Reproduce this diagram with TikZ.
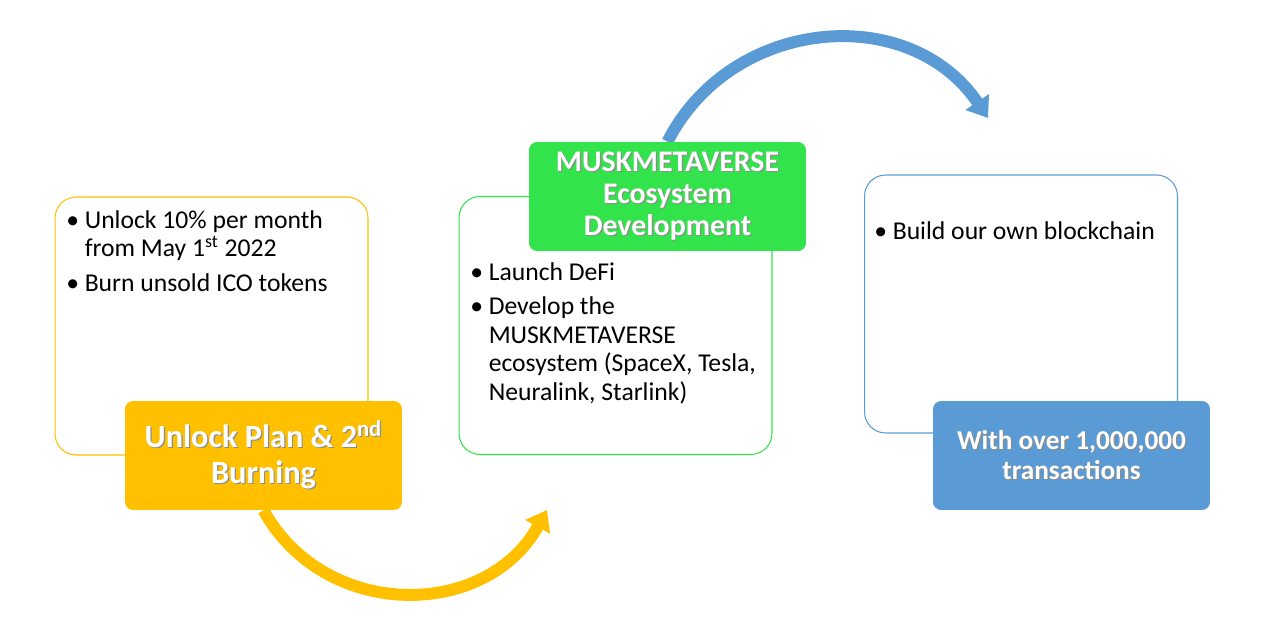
\documentclass[tikz,border=0pt]{standalone}
\usepackage{fontspec}
\setmainfont{Carlito}
\usepackage{xcolor}
\usetikzlibrary{arrows.meta, positioning, backgrounds}

\definecolor{burngold}{HTML}{FFC000}
\definecolor{ecogreen}{HTML}{33E34B}
\definecolor{chainblue}{HTML}{5B9BD5}

\newcommand{\bulletitem}{\makebox[10.5pt][l]{\textbullet}}
\newcommand{\bulletgap}{\hspace*{10.5pt}}
\newcommand{\shadowline}[1]{\makebox[0pt][l]{\hspace{0.7pt}\raisebox{-0.7pt}{\textcolor{black!45}{#1}}}#1}

\tikzset{
    outlinebox/.style={
        rectangle,
        rounded corners=0.42cm,
        line width=0.6pt,
        fill=white,
        minimum width=6.26cm,
        minimum height=5.16cm
    },
    titlebox/.style={
        rectangle,
        rounded corners=0.16cm,
        minimum width=5.54cm,
        minimum height=2.18cm,
        text=white,
        align=center,
        font=\fontsize{15.5}{17}\selectfont\bfseries
    },
    bodytext/.style={
        anchor=north west,
        inner sep=0pt,
        align=left,
        font=\fontsize{14.6}{16.4}\selectfont
    },
    flowarrow/.style={
        line width=6.8pt,
        -{Triangle[length=11pt,width=15.5pt]}
    }
}

\begin{document}
\begin{tikzpicture}[x=0.02cm, y=0.02cm]
\useasboundingbox (0,0) rectangle (1264,626);

% Step 1: unlock and burning
\node[outlinebox, draw=burngold] (unlockbox) at (211.5,300) {};
\node[bodytext] (unlocktext) at (66,416) {\bulletitem Unlock 10\% per month\\
    \bulletgap from May 1\textsuperscript{st} 2022\\[3pt]
    \bulletitem Burn unsold ICO tokens};
\node[titlebox, fill=burngold, font=\fontsize{18.4}{20.4}\selectfont\bfseries] (unlocktitle) at (263.5,170.5)
    {\shadowline{Unlock Plan \& 2\textsuperscript{nd}}\\ \shadowline{Burning}};

% Step 2: ecosystem
\node[outlinebox, draw=ecogreen] (ecobox) at (615.5,300.5) {};
\node[bodytext] (ecotext) at (470,364) {\bulletitem Launch DeFi\\[3pt]
    \bulletitem Develop the\\
    \bulletgap MUSKMETAVERSE\\
    \bulletgap ecosystem (SpaceX, Tesla,\\
    \bulletgap Neuralink, Starlink)};
\node[titlebox, fill=ecogreen, font=\fontsize{17}{18.4}\selectfont\bfseries] (ecotitle) at (667.5,429.5)
    {\shadowline{MUSKMETAVERSE}\\ \shadowline{Ecosystem}\\ \shadowline{Development}};

% Step 3: blockchain
\node[outlinebox, draw=chainblue] (chainbox) at (1021,322) {};
\node[bodytext] (chaintext) at (874,405) {\bulletitem Build our own blockchain};
\node[titlebox, fill=chainblue] (chaintitle) at (1071.5,170.5)
    {\shadowline{With over 1,000,000}\\ \shadowline{transactions}};

% Arrows
\coordinate (burnend) at (547,116);
\coordinate (ecoend) at (988,508);
\begin{scope}[on background layer]
\draw[flowarrow, burngold] (unlocktitle.south) to[out=-61, in=-119, looseness=1.14] (burnend);
\draw[flowarrow, chainblue] (ecotitle.north) to[out=63, in=124, looseness=1.12] (ecoend);
\end{scope}

\end{tikzpicture}
\end{document}
